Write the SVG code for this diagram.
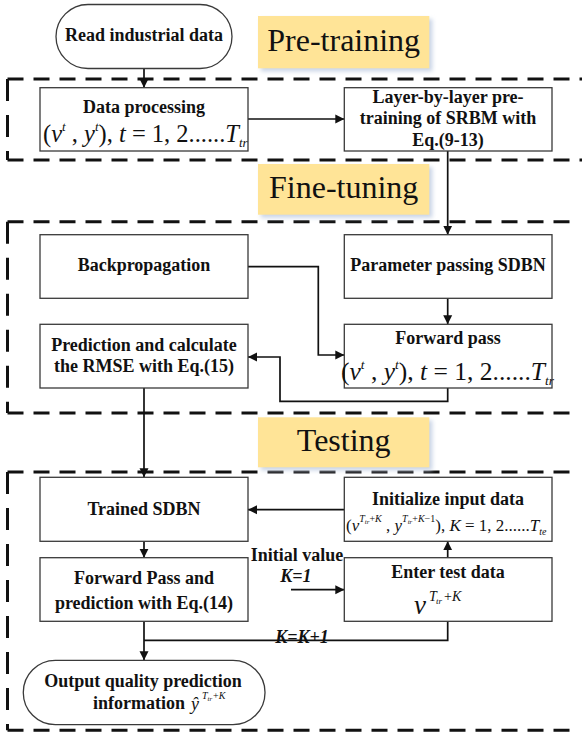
<svg xmlns="http://www.w3.org/2000/svg" width="582" height="733" viewBox="0 0 582 733">
<style>
.box{fill:#fff;stroke:#3a3a3a;stroke-width:1.3}
.t{font-family:"Liberation Serif","Times New Roman",serif;font-weight:bold;font-size:18px;fill:#111;text-anchor:middle}
.m{font-family:"Liberation Serif","Times New Roman",serif;font-weight:normal;fill:#111}
.i{font-style:italic}
.lab{font-family:"Liberation Serif","Times New Roman",serif;font-size:32px;fill:#111;text-anchor:middle}
.lbox{fill:#FFE497}
.sh{fill:#C9D4E6;filter:url(#blur)}
.dh{fill:none;stroke:#111;stroke-width:3;stroke-dasharray:16 10}
.dv{fill:none;stroke:#111;stroke-width:3;stroke-dasharray:22 14}
.c{fill:none;stroke:#111;stroke-width:1.7}
.ca{fill:none;stroke:#111;stroke-width:1.7;marker-end:url(#ah)}
.k{font-family:"Liberation Serif","Times New Roman",serif;font-weight:bold;font-size:18px;fill:#111;text-anchor:middle}
</style>
<defs>
<marker id="ah" markerUnits="userSpaceOnUse" markerWidth="10" markerHeight="10" refX="9" refY="5" orient="auto">
<path d="M0,0.5 L9,5 L0,9.5 z" fill="#111"/>
</marker>
<filter id="blur" x="-20%" y="-20%" width="140%" height="140%"><feGaussianBlur stdDeviation="2"/></filter>
</defs>

<!-- dashed stage frames -->
<g id="frames">
<path class="dh" d="M7.5 79 H582"/><path class="dh" d="M7.5 160 H582"/><path class="dv" d="M7.5 79 V160"/>
<path class="dh" d="M7.5 221.7 H576"/><path class="dh" d="M7.5 413 H576"/><path class="dv" d="M7.5 221.7 V413"/>
<path class="dh" d="M7.5 472 H576"/><path class="dh" d="M7.5 730.3 H576"/><path class="dv" d="M7.5 472 V730.3"/>
</g>

<!-- stage labels -->
<g id="label-pretraining">
<rect class="sh" x="261" y="19" width="171.3" height="52.3"/>
<rect class="lbox" x="258" y="16" width="171.3" height="52.3"/>
<text class="lab" x="343.7" y="51">Pre-training</text>
</g>
<g id="label-finetuning">
<rect class="sh" x="261" y="167" width="171.3" height="50.7"/>
<rect class="lbox" x="258" y="164" width="171.3" height="50.7"/>
<text class="lab" x="343.7" y="198">Fine-tuning</text>
</g>
<g id="label-testing">
<rect class="sh" x="261" y="420.3" width="171.3" height="50"/>
<rect class="lbox" x="258" y="417.3" width="171.3" height="50"/>
<text class="lab" x="343.7" y="451">Testing</text>
</g>

<!-- connectors -->
<g id="connectors">
<path class="ca" d="M144 68.5 V87.7"/>
<path class="ca" d="M248 119 H344.3"/>
<path class="ca" d="M447.7 151 V234.7"/>
<path class="ca" d="M447.7 298.3 V324.3"/>
<path class="ca" d="M248 266.7 H318.3 V355 H344.3"/>
<path class="ca" d="M447.7 388 V401.3 H280 V357 H248"/>
<path class="ca" d="M144 388 V477.3"/>
<path class="ca" d="M344.3 509.7 H248"/>
<path class="ca" d="M144 541.3 V557.7"/>
<path class="ca" d="M447.7 557.7 V541.3"/>
<path class="ca" d="M291 589.7 H344.3"/>
<path class="ca" d="M144 621.3 V660.3"/>
<path class="c" d="M447.7 621.3 V640.3 H144"/>
<text class="k" x="297" y="561">Initial value</text>
<text class="k i" x="296" y="582">K=1</text>
<text class="k i" x="302" y="643">K=K+1</text>
</g>

<!-- nodes -->
<g id="read-data">
<rect class="box" x="56" y="4.5" width="176" height="64" rx="32" ry="32"/>
<text class="t" x="144" y="41">Read industrial data</text>
</g>

<g id="data-processing">
<rect class="box" x="40" y="87.7" width="208" height="63.3"/>
<text class="t" x="144" y="113">Data processing</text>
<text class="m" x="43" y="142" font-size="24.5">(<tspan class="i">v</tspan><tspan class="i" font-size="13" y="131">t</tspan><tspan y="142"> , </tspan><tspan class="i">y</tspan><tspan class="i" font-size="13" y="131">t</tspan><tspan y="142">), </tspan><tspan class="i">t</tspan> = 1, 2......<tspan class="i">T</tspan><tspan class="i" font-size="13" y="147">tr</tspan></text>
</g>

<g id="layer-pretraining">
<rect class="box" x="344.3" y="87.7" width="207.7" height="63.3"/>
<text class="t" x="448" y="103">Layer-by-layer pre-</text>
<text class="t" x="448" y="124">training of SRBM with</text>
<text class="t" x="448" y="145.5">Eq.(9-13)</text>
</g>

<g id="backpropagation">
<rect class="box" x="40" y="234.7" width="208" height="63.6"/>
<text class="t" x="144" y="271">Backpropagation</text>
</g>

<g id="parameter-passing">
<rect class="box" x="344.3" y="234.7" width="207.7" height="63.6"/>
<text class="t" x="448" y="271">Parameter passing SDBN</text>
</g>

<g id="prediction-rmse">
<rect class="box" x="40" y="324.3" width="208" height="63.7"/>
<text class="t" x="144" y="350.5">Prediction and calculate</text>
<text class="t" x="144" y="372">the RMSE with Eq.(15)</text>
</g>

<g id="forward-pass">
<rect class="box" x="344.3" y="324.3" width="207.7" height="63.7"/>
<text class="t" x="448" y="344">Forward pass</text>
<text class="m" x="341" y="380" font-size="25.5">(<tspan class="i">v</tspan><tspan class="i" font-size="13.5" y="369">t</tspan><tspan y="380"> , </tspan><tspan class="i">y</tspan><tspan class="i" font-size="13.5" y="369">t</tspan><tspan y="380">), </tspan><tspan class="i">t</tspan> = 1, 2......<tspan class="i">T</tspan><tspan class="i" font-size="13.5" y="385">tr</tspan></text>
</g>

<g id="trained-sdbn">
<rect class="box" x="40" y="477.3" width="208" height="64"/>
<text class="t" x="144" y="515">Trained SDBN</text>
</g>

<g id="initialize-input">
<rect class="box" x="344.3" y="477.3" width="207.7" height="64"/>
<text class="t" x="448" y="504.7">Initialize input data</text>
<text class="m" x="346" y="531.3" font-size="17">(<tspan class="i">v</tspan><tspan class="i" font-size="10" y="522">T</tspan><tspan class="i" font-size="7" y="524">tr</tspan><tspan font-size="10" y="522">+<tspan class="i">K</tspan></tspan><tspan y="531.3"> , </tspan><tspan class="i">y</tspan><tspan class="i" font-size="10" y="522">T</tspan><tspan class="i" font-size="7" y="524">tr</tspan><tspan font-size="10" y="522">+<tspan class="i">K</tspan>−1</tspan><tspan y="531.3">), </tspan><tspan class="i">K</tspan> = 1, 2......<tspan class="i">T</tspan><tspan class="i" font-size="10" y="535">te</tspan></text>
</g>

<g id="forward-pass-prediction">
<rect class="box" x="40" y="557.7" width="208" height="63.6"/>
<text class="t" x="144" y="584.3">Forward Pass and</text>
<text class="t" x="144" y="609.3">prediction with Eq.(14)</text>
</g>

<g id="enter-test-data">
<rect class="box" x="344.3" y="557.7" width="207.7" height="63.6"/>
<text class="t" x="448" y="578">Enter test data</text>
<text class="m" x="414" y="613.7" font-size="27"><tspan class="i">v</tspan><tspan class="i" font-size="14" x="429" y="601">T</tspan><tspan class="i" font-size="9" x="436" y="604">tr</tspan><tspan font-size="14" x="444" y="601">+<tspan class="i">K</tspan></tspan></text>
</g>

<g id="output-prediction">
<rect class="box" x="23.3" y="660.3" width="241.7" height="64.4" rx="32" ry="32"/>
<text class="t" x="143" y="687">Output quality prediction</text>
<text class="t" x="139" y="708.7">information</text>
<text class="m" x="191" y="710" font-size="18"><tspan class="i">ŷ</tspan><tspan class="i" font-size="10" x="202" y="699">T</tspan><tspan class="i" font-size="7" x="207.5" y="701">tr</tspan><tspan font-size="10" x="213" y="699">+<tspan class="i">K</tspan></tspan></text>
</g>
</svg>
